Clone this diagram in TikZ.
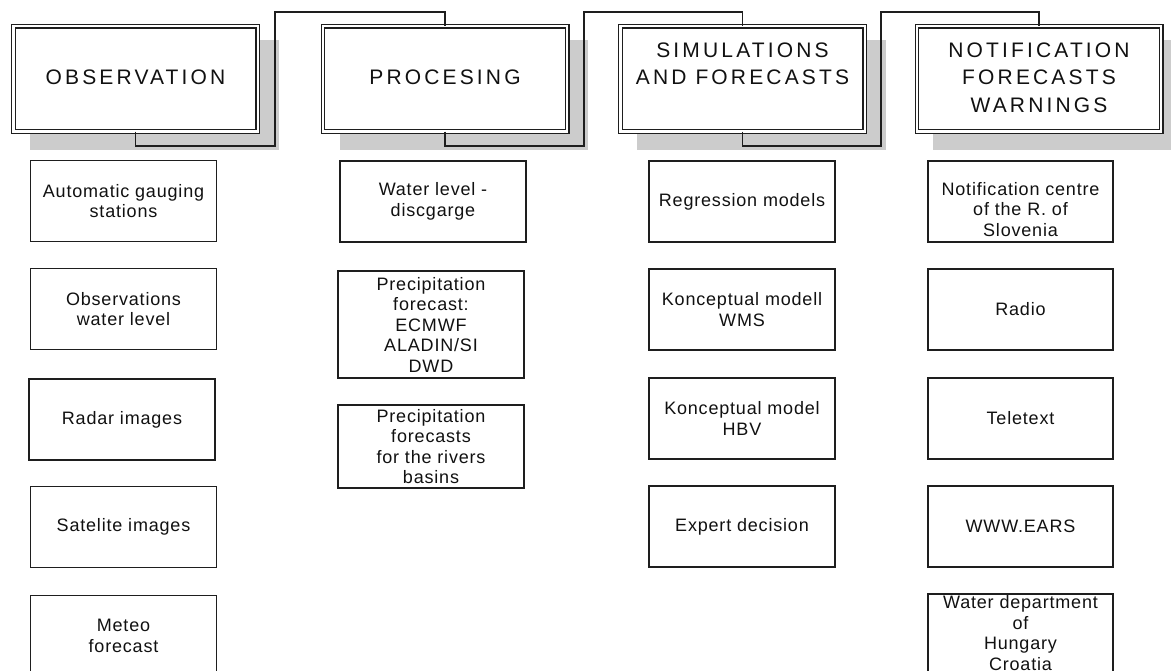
\documentclass[tikz,border=0pt]{standalone}
\usepackage{fontspec}
\setmainfont{Liberation Sans}
\newfontfamily\hdfont[LetterSpace=15]{Liberation Sans}
\newfontfamily\bxfont[LetterSpace=4.5]{Liberation Sans}
\definecolor{linec}{HTML}{1E1E1E}
\definecolor{txtc}{HTML}{111111}
\definecolor{shadowc}{HTML}{CCCCCC}
\begin{document}
\begin{tikzpicture}[x=1pt,y=-1pt,
  head/.style={draw=linec, double=white, double distance=2.4pt, line width=1.1pt,
    fill=white, minimum width=244.4pt, minimum height=105.4pt, inner sep=0pt, outer sep=0pt},
  htext/.style={font=\hdfont\fontsize{21}{27.5}\selectfont, align=center, anchor=north,
    inner sep=0pt, text=txtc},
  box/.style={draw=linec, line width=1.3pt, fill=white, minimum width=186pt,
    minimum height=81pt, inner sep=0pt, outer sep=0pt, align=center,
    font=\bxfont\fontsize{18}{20.5}\selectfont, text=txtc},
  btext/.style={align=center, inner sep=0pt, anchor=north,
    font=\bxfont\fontsize{18}{20.5}\selectfont, text=txtc},
  conn/.style={draw=linec, line width=1.3pt},
  shade/.style={fill=shadowc}]
\useasboundingbox (0,0) rectangle (1171,671);
\clip (0,0) rectangle (1171,671);
\fill[white] (0,0) rectangle (1171,671);
% shadows
\fill[shade] (30,40) rectangle (279,150);
\fill[shade] (340,40) rectangle (588,150);
\fill[shade] (637,40) rectangle (886,150);
\fill[shade] (933,40) rectangle (1183,150);
% headers
\node[head] (h1) at (135.5,79) {};
\node[head] (h2) at (445,79) {};
\node[head] (h3) at (742.5,79) {};
\node[head] (h4) at (1039,79) {};
\node[htext] (ht1) at (135.5,69.5) {OBSERVATION};
\node[htext] (ht2) at (445,69.5) {PROCESING};
\node[htext] (ht3) at (742.5,42.5) {SIMULATIONS\\AND FORECASTS};
\node[htext] (ht4) at (1039,42.5) {NOTIFICATION\\FORECASTS\\WARNINGS};
% connectors
\coordinate (k1) at (275,146); \coordinate (t1) at (275,12);
\coordinate (k2) at (584,146); \coordinate (t2) at (584,12);
\coordinate (k3) at (881,146); \coordinate (t3) at (881,12);
\draw[conn] (h1.south) |- (k1) -- (t1) -| (h2.north);
\draw[conn] (h2.south) |- (k2) -- (t2) -| (h3.north);
\draw[conn] (h3.south) |- (k3) -- (t3) -| (h4.north);
% column 1
\node[box] (b11) at (123.5,201) {Automatic gauging\\stations};
\node[box] (b12) at (123.5,309) {Observations\\water level};
\node[box] (b13) at (122,419.5) {Radar images};
\node[box] (b14) at (123.5,527) {Satelite images};
\node[box] (b15) at (123.5,636) {Meteo\\forecast};
% column 2
\node[box] (b21) at (433,201.5) {Water level -\\discgarge};
\node[box, minimum height=107pt] (b22) at (431,324.5) {Precipitation\\forecast:\\ECMWF\\ALADIN/SI\\DWD};
\node[box, minimum height=83pt] (b23) at (431,446.5) {Precipitation\\forecasts\\for the rivers\\basins};
% column 3
\node[box] (b31) at (742,201.5) {Regression models};
\node[box] (b32) at (742,309.5) {Konceptual modell\\WMS};
\node[box] (b33) at (742,418.5) {Konceptual model\\HBV};
\node[box] (b34) at (742,526.5) {Expert decision};
% column 4
\node[box, minimum width=185pt] (b41) at (1020.5,201.5) {};
\node[btext] (bt41) at (1020.5,182) {Notification centre\\of the R. of\\Slovenia};
\node[box, minimum width=185pt] (b42) at (1020.5,309.5) {Radio};
\node[box, minimum width=185pt] (b43) at (1020.5,418.5) {Teletext};
\node[box, minimum width=185pt] (b44) at (1020.5,526.5) {WWW.EARS};
\node[box, minimum width=185pt, minimum height=100pt] (b45) at (1020.5,644) {};
\node[btext] (bt45) at (1020.5,595.5) {Water department\\of\\Hungary\\Croatia};
\end{tikzpicture}
\end{document}
